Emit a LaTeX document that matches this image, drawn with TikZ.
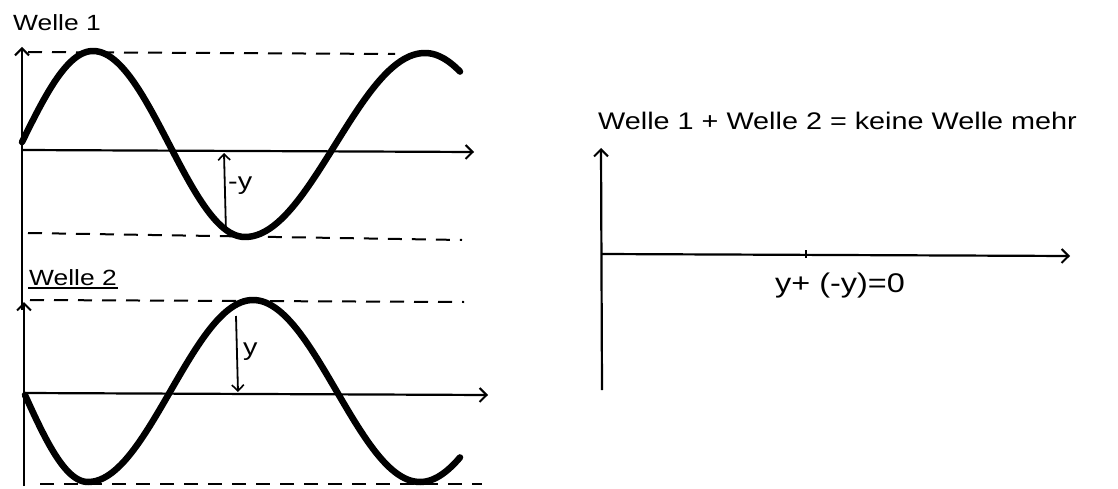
\documentclass[tikz,border=0pt]{standalone}
\usepackage{fontspec}
\setmainfont{Liberation Sans}
\newfontfamily\handfont[FakeStretch=1.2]{Liberation Sans}
\usetikzlibrary{arrows.meta}
\tikzset{
  axis/.style={line width=2.2pt, -{Straight Barb[length=7pt,width=14pt,line width=2pt]}},
  guide/.style={line width=2pt, dash pattern=on 14pt off 10pt},
  wave/.style={line width=6.5pt, line cap=round, line join=round},
  lbl/.style={font=\handfont\fontsize{24}{26}\selectfont, inner sep=1pt},
  valarrow/.style={line width=1.8pt, -{Straight Barb[length=6pt,width=12pt,line width=1.6pt]}}
}
\begin{document}
\begin{tikzpicture}[x=1pt,y=-1pt]
\useasboundingbox[fill=white] (0,0) rectangle (1118,489);

% ---------- Welle 1 ----------
\node[lbl, anchor=west, font=\handfont\fontsize{22}{24}\selectfont] (t1) at (12,23) {Welle 1};
\coordinate (v1b) at (22,310);
\coordinate (v1t) at (22,47);
\draw[axis] (v1b) -- (v1t);
\coordinate (h1a) at (22,150);
\coordinate (h1b) at (474,152);
\draw[axis] (h1a) -- (h1b);
\coordinate (d1a) at (28,52);
\coordinate (d1b) at (395,54);
\draw[guide] (d1a) -- (d1b);
\coordinate (d2a) at (28,233);
\coordinate (d2b) at (462,240);
\draw[guide] (d2a) -- (d2b);
\draw[wave]
  plot[domain=22:93, samples=30] (\x, {144 + 93*cos(1.25087*(\x+50.9))})
  -- plot[domain=93:245, samples=50] (\x, {144 - 93*cos(1.18421*(\x-93))})
  -- plot[domain=245:425, samples=60] (\x, {145 + 92*cos(\x-245)})
  -- plot[domain=425:460, samples=15] (\x, {145 - 92*cos(1.05882*(\x-425))});
\coordinate (a1b) at (226,232);
\coordinate (a1t) at (224,153);
\draw[valarrow] (a1b) -- (a1t);
\node[lbl, anchor=west] (my) at (227,186) {-y};

% ---------- Welle 2 ----------
\node[lbl, anchor=west, font=\handfont\fontsize{22}{24}\selectfont] (t2) at (28,278) {Welle 2};
\draw[line width=1.6pt] ([yshift=-1pt]t2.south west) -- ([yshift=-1pt]t2.south east);
\coordinate (v2b) at (24,486);
\coordinate (v2t) at (24,302);
\draw[axis] (v2b) -- (v2t);
\coordinate (h2a) at (24,393);
\coordinate (h2b) at (488,395);
\draw[axis] (h2a) -- (h2b);
\coordinate (d3a) at (30,300);
\coordinate (d3b) at (464,302);
\draw[guide] (d3a) -- (d3b);
\coordinate (d4a) at (40,484);
\coordinate (d4b) at (482,484);
\draw[guide] (d4a) -- (d4b);
\draw[wave]
  plot[domain=25:88, samples=30] (\x, {391 - 91*cos(1.38889*(\x+41.6))})
  -- plot[domain=88:253, samples=55] (\x, {391 + 91*cos(1.09091*(\x-88))})
  -- plot[domain=253:420, samples=55] (\x, {391 - 91*cos(1.07784*(\x-253))})
  -- plot[domain=420:460, samples=15] (\x, {391 + 91*cos(1.07784*(\x-420))});
\coordinate (a2t) at (236,316);
\coordinate (a2b) at (238,392);
\draw[valarrow] (a2t) -- (a2b);
\node[lbl, anchor=west] (py) at (242,352) {y};

% ---------- Summe ----------
\node[lbl, anchor=west] (t3) at (597,121) {Welle 1 + Welle 2 = keine Welle mehr};
\coordinate (v3b) at (602,390);
\coordinate (v3t) at (601,148);
\draw[axis] (v3b) -- (v3t);
\coordinate (h3a) at (601,254);
\coordinate (h3b) at (1070,256);
\draw[axis] (h3a) -- (h3b);
\coordinate (tick) at (806,254);
\draw[line width=1.8pt] ([yshift=-4pt]tick) -- ([yshift=4pt]tick);
\node[lbl, font=\handfont\fontsize{27}{29}\selectfont] (sum) at (840,286) {y+ (-y)=0};
\end{tikzpicture}
\end{document}
